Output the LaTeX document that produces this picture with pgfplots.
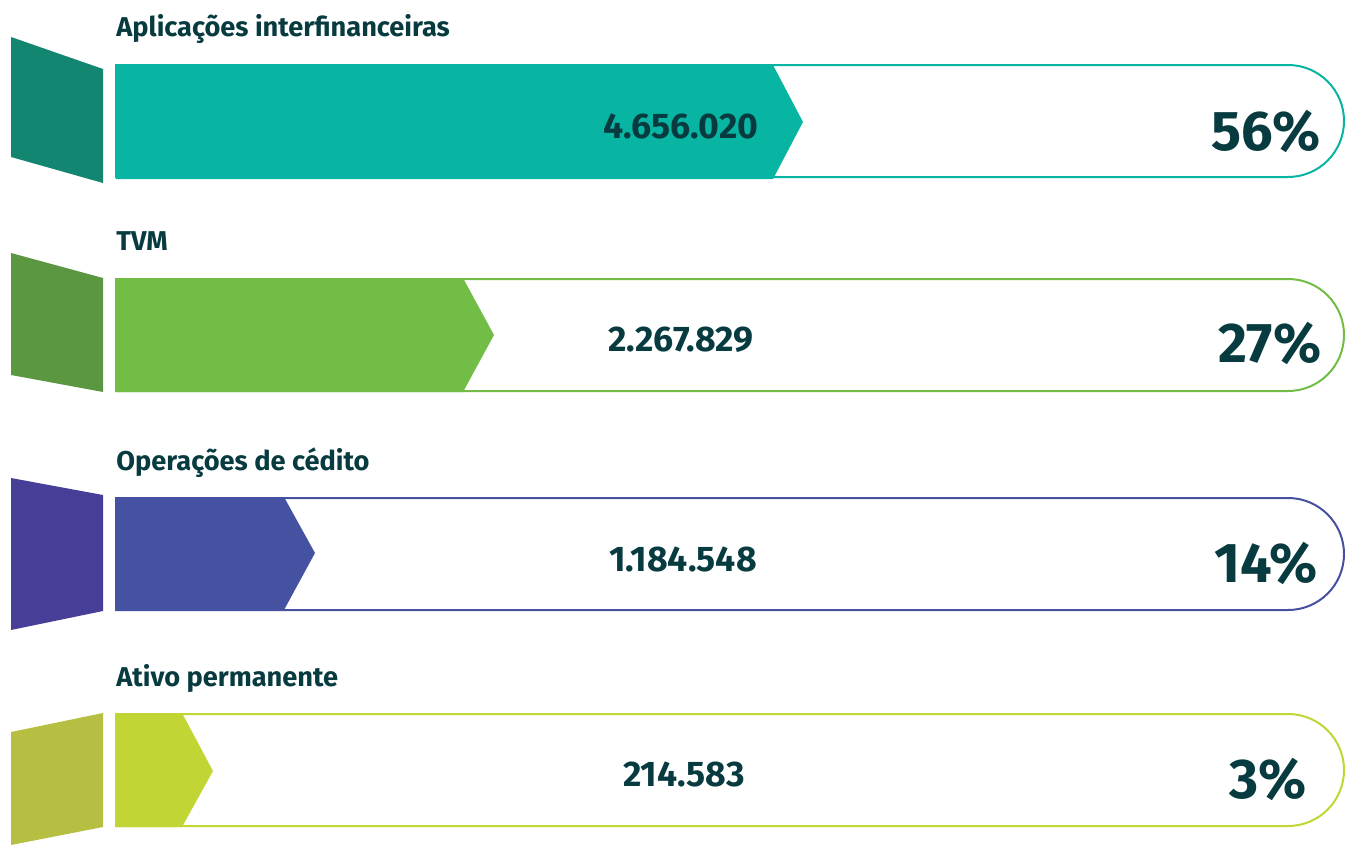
\documentclass[border=0pt]{standalone}
\usepackage{pgfplots}
\pgfplotsset{compat=1.18}
\usepackage{fontspec}
\setmainfont{Fira Sans}
\definecolor{txt}{HTML}{073B40}
\definecolor{tealBar}{HTML}{07B5A2}
\definecolor{tealDark}{HTML}{138672}
\definecolor{greenBar}{HTML}{72BD46}
\definecolor{greenDark}{HTML}{5B9741}
\definecolor{blueBar}{HTML}{4551A1}
\definecolor{blueDark}{HTML}{463E97}
\definecolor{limeBar}{HTML}{C1D534}
\definecolor{limeDark}{HTML}{B7BF42}

\begin{document}
\begin{tikzpicture}
\begin{axis}[
    x=0.5pt, y=0.5pt,
    xmin=0, xmax=1345, ymin=0, ymax=846,
    y dir=reverse,
    hide axis, clip=false,
    scale only axis
]
% outline boxes (rounded right end)
\draw[tealBar, line width=1pt] (axis cs:116,177) -- (axis cs:116,65) [rounded corners=28pt] -- (axis cs:1344,65) -- (axis cs:1344,177) [sharp corners] -- cycle;
\draw[greenBar, line width=1pt] (axis cs:116,391) -- (axis cs:116,279) [rounded corners=28pt] -- (axis cs:1344,279) -- (axis cs:1344,391) [sharp corners] -- cycle;
\draw[blueBar, line width=1pt] (axis cs:116,610) -- (axis cs:116,498) [rounded corners=28pt] -- (axis cs:1344,498) -- (axis cs:1344,610) [sharp corners] -- cycle;
\draw[limeBar, line width=1pt] (axis cs:116,826) -- (axis cs:116,714) [rounded corners=28pt] -- (axis cs:1344,714) -- (axis cs:1344,826) [sharp corners] -- cycle;

% left trapezoids
\addplot[fill=tealDark, draw=none] coordinates {(11,37) (103,69) (103,183) (11,157)} -- cycle;
\addplot[fill=greenDark, draw=none] coordinates {(11,253) (103,278) (103,392) (11,375)} -- cycle;
\addplot[fill=blueDark, draw=none] coordinates {(11,478) (103,495) (103,611) (11,630)} -- cycle;
\addplot[fill=limeDark, draw=none] coordinates {(11,732) (103,713) (103,827) (11,845)} -- cycle;

% arrow bars
\addplot[fill=tealBar, draw=none] coordinates {(116,65) (773,65) (803,122) (773,179) (116,179)} -- cycle;
\addplot[fill=greenBar, draw=none] coordinates {(116,278) (463,278) (494,335) (463,392) (116,392)} -- cycle;
\addplot[fill=blueBar, draw=none] coordinates {(116,497) (284,497) (315,553) (284,610) (116,610)} -- cycle;
\addplot[fill=limeBar, draw=none] coordinates {(116,713) (182,713) (213,771) (182,827) (116,827)} -- cycle;

% titles
\node[anchor=base west, inner sep=0pt, font=\fontsize{13.6pt}{15pt}\bfseries, text=txt] at (axis cs:116,36) {Aplicações interfinanceiras};
\node[anchor=base west, inner sep=0pt, font=\fontsize{13.6pt}{15pt}\bfseries, text=txt] at (axis cs:116,250) {TVM};
\node[anchor=base west, inner sep=0pt, font=\fontsize{13.6pt}{15pt}\bfseries, text=txt] at (axis cs:116,470) {Operações de cédito};
\node[anchor=base west, inner sep=0pt, font=\fontsize{13.6pt}{15pt}\bfseries, text=txt] at (axis cs:116,686) {Ativo permanente};

% values
\node[anchor=base, inner sep=0pt, font=\fontsize{17.8pt}{20pt}\bfseries, text=txt] at (axis cs:681,138) {4.656.020};
\node[anchor=base, inner sep=0pt, font=\fontsize{17.8pt}{20pt}\bfseries, text=txt] at (axis cs:681,351) {2.267.829};
\node[anchor=base, inner sep=0pt, font=\fontsize{17.8pt}{20pt}\bfseries, text=txt] at (axis cs:683,571) {1.184.548};
\node[anchor=base, inner sep=0pt, font=\fontsize{17.8pt}{20pt}\bfseries, text=txt] at (axis cs:684,786) {214.583};

% percentages
\node[anchor=base, inner sep=0pt, font=\fontsize{28pt}{32pt}\bfseries, text=txt] at (axis cs:1266,150) {56\%};
\node[anchor=base, inner sep=0pt, font=\fontsize{28pt}{32pt}\bfseries, text=txt] at (axis cs:1270,362) {27\%};
\node[anchor=base, inner sep=0pt, font=\fontsize{28pt}{32pt}\bfseries, text=txt] at (axis cs:1266,582) {14\%};
\node[anchor=base, inner sep=0pt, font=\fontsize{28pt}{32pt}\bfseries, text=txt] at (axis cs:1268,798) {3\%};
\end{axis}
\pgfresetboundingbox
\useasboundingbox (current axis.south west) rectangle (current axis.north east);
\end{tikzpicture}
\end{document}
